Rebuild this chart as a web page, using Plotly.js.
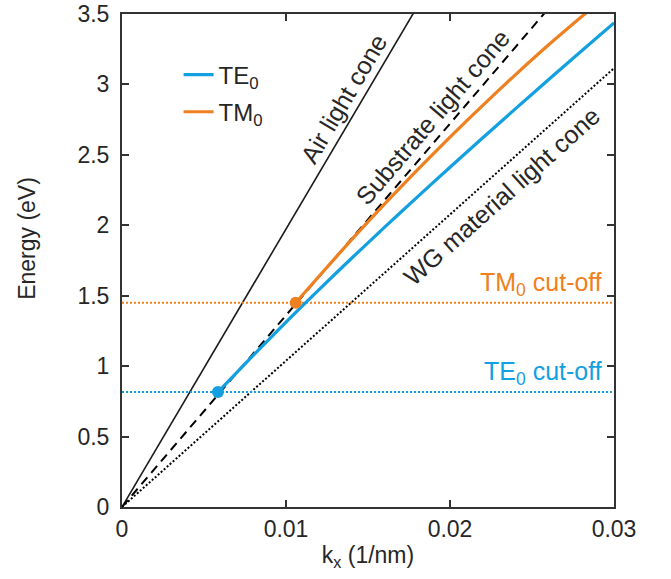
<!DOCTYPE html>
<html>
<head>
<meta charset="utf-8">
<script src="https://cdn.plot.ly/plotly-3.0.1.min.js"></script>
<style>html,body{margin:0;padding:0;background:#fff;}#chart{width:671px;height:579px;}</style>
</head>
<body>
<div id="chart"></div>
<script>
// ---- data ----
const teK = [0.00585, 0.008, 0.010, 0.012, 0.014, 0.016, 0.018, 0.020, 0.022, 0.024, 0.026, 0.028, 0.030];
const teE = [0.816, 1.076, 1.312, 1.542, 1.766, 1.985, 2.200, 2.412, 2.621, 2.828, 3.033, 3.236, 3.437];
const tmK = [0.01059, 0.012, 0.014, 0.016, 0.018, 0.020, 0.022, 0.024, 0.026, 0.0285];
const tmE = [1.450, 1.636, 1.898, 2.150, 2.392, 2.626, 2.852, 3.070, 3.280, 3.528];
const airConeK = [0, 0.0178];
const airConeE = [0, 3.512];
const subConeK = [0, 0.0258];
const subConeE = [0, 3.511];
const wgConeK = [0, 0.030];
const wgConeE = [0, 3.115];
const teCutoff = 0.816;
const tmCutoff = 1.450;
const xRange = [0, 0.03];
const yRange = [0, 3.5];
const xTicks = [0, 0.01, 0.02, 0.03];
const xTickText = ['0', '0.01', '0.02', '0.03'];
const yTicks = [0, 0.5, 1, 1.5, 2, 2.5, 3, 3.5];

const BLUE = '#12A0E0';
const ORANGE = '#EE8020';
const TXT = '#262626';
const FONT = 'Liberation Sans, Arial, sans-serif';

const traces = [
  {x: airConeK, y: airConeE, mode: 'lines', line: {color: '#1a1a1a', width: 1.6}, showlegend: false, hoverinfo: 'skip'},
  {x: subConeK, y: subConeE, mode: 'lines', line: {color: '#000', width: 2, dash: '9px,6px'}, showlegend: false, hoverinfo: 'skip'},
  {x: wgConeK, y: wgConeE, mode: 'lines', line: {color: '#000', width: 2, dash: '2px,2px'}, showlegend: false, hoverinfo: 'skip'},
  {x: xRange, y: [tmCutoff, tmCutoff], mode: 'lines', line: {color: ORANGE, width: 2, dash: '2px,2px'}, showlegend: false, hoverinfo: 'skip'},
  {x: xRange, y: [teCutoff, teCutoff], mode: 'lines', line: {color: BLUE, width: 2, dash: '2px,2px'}, showlegend: false, hoverinfo: 'skip'},
  {x: teK, y: teE, mode: 'lines', name: 'TE<sub>0</sub>', legendgroup: 'te', line: {color: BLUE, width: 3.2, shape: 'spline', smoothing: 0.6}},
  {x: tmK, y: tmE, mode: 'lines', name: 'TM<sub>0</sub>', legendgroup: 'tm', line: {color: ORANGE, width: 3.2, shape: 'spline', smoothing: 0.6}},
  {x: [teK[0]], y: [teE[0]], mode: 'markers', marker: {color: BLUE, size: 12}, showlegend: false},
  {x: [tmK[0]], y: [tmE[0]], mode: 'markers', marker: {color: ORANGE, size: 12}, showlegend: false}
];

const axisCommon = {
  showgrid: false, zeroline: false, showline: true, mirror: 'ticks',
  linecolor: '#333', linewidth: 2, ticks: 'inside', ticklen: 7, tickwidth: 2, tickcolor: '#333',
  tickfont: {family: FONT, size: 23, color: TXT}
};

const layout = {
  width: 671, height: 579,
  margin: {l: 122, r: 57, t: 14, b: 72},
  paper_bgcolor: '#fff', plot_bgcolor: '#fff',
  font: {family: FONT, color: TXT},
  xaxis: Object.assign({}, axisCommon, {range: xRange, tickvals: xTicks, ticktext: xTickText,
    title: {text: 'k<sub>x</sub> (1/nm)', font: {family: FONT, size: 23, color: TXT}, standoff: 6}}),
  yaxis: Object.assign({}, axisCommon, {range: yRange, tickvals: yTicks, ticktext: yTicks.map(String), ticklabelstandoff: 6}),
  showlegend: true,
  legend: {x: 0.115, y: 0.922, xanchor: 'left', yanchor: 'top', bgcolor: 'rgba(0,0,0,0)',
    font: {family: FONT, size: 24, color: TXT}, tracegroupgap: 3},
  annotations: [
    {xref: 'paper', yref: 'paper', x: -0.192, y: 0.545, text: 'Energy (eV)', textangle: -90, showarrow: false,
      font: {family: FONT, size: 23, color: TXT}, xanchor: 'center', yanchor: 'middle'},
    {x: 0.01348, y: 2.90, text: 'Air light cone', textangle: -59.5, showarrow: false,
      font: {family: FONT, size: 25, color: TXT}},
    {x: 0.01893, y: 2.77, text: 'Substrate light cone', textangle: -49.4, showarrow: false,
      font: {family: FONT, size: 25, color: TXT}},
    {x: 0.02315, y: 2.21, text: 'WG material light cone', textangle: -41.8, showarrow: false,
      font: {family: FONT, size: 25, color: TXT}},
    {x: 0.0294, y: tmCutoff, text: 'TM<sub>0</sub> cut-off', showarrow: false, xanchor: 'right', yanchor: 'bottom', yshift: 1,
      font: {family: FONT, size: 25, color: ORANGE}},
    {x: 0.0294, y: teCutoff, text: 'TE<sub>0</sub> cut-off', showarrow: false, xanchor: 'right', yanchor: 'bottom', yshift: 1,
      font: {family: FONT, size: 25, color: BLUE}}
  ]
};

Plotly.newPlot('chart', traces, layout, {displayModeBar: false, staticPlot: true});
</script>
</body>
</html>
